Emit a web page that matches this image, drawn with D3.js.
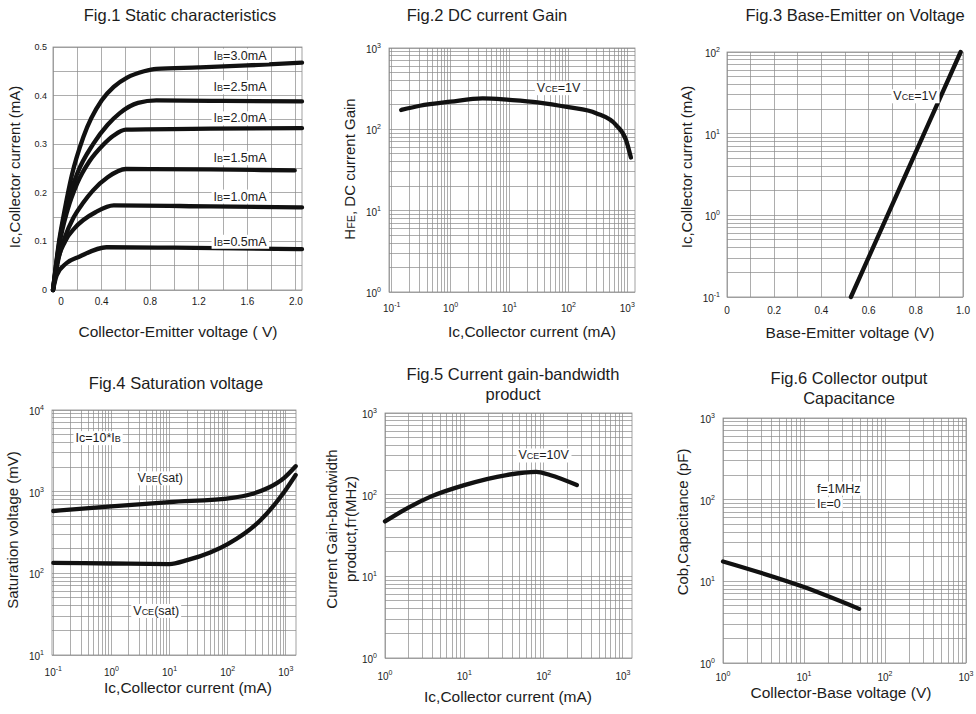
<!DOCTYPE html>
<html><head><meta charset="utf-8">
<script src="https://cdn.jsdelivr.net/npm/d3@7"></script>
<style>
body{margin:0;background:#fff;}
text{font-family:"Liberation Sans",Arial,sans-serif;fill:#1c1c1c;}
</style></head><body>
<svg id="c" width="976" height="714"></svg>
<script>
// ---------------- DATA ----------------
// Fig.1 static characteristics: [Vce (V), Ic (mA)]
const ib30 = [[0,0],[0.05,0.1],[0.1,0.17],[0.154,0.235],[0.25,0.315],[0.40,0.39],[0.5,0.418],[0.61,0.437],[0.75,0.45],[0.85,0.455],[1.2,0.458],[1.6,0.462],[2.05,0.468]];
const ib25 = [[0,0],[0.05,0.095],[0.12,0.18],[0.2,0.24],[0.33,0.3],[0.45,0.34],[0.55,0.364],[0.7,0.385],[0.85,0.39],[1.4,0.389],[2.05,0.388]];
const ib20 = [[0,0],[0.05,0.09],[0.12,0.165],[0.2,0.22],[0.3,0.265],[0.41,0.298],[0.5,0.318],[0.6,0.33],[1.3,0.332],[2.05,0.333]];
const ib15 = [[0,0],[0.05,0.07],[0.1,0.11],[0.167,0.148],[0.25,0.18],[0.33,0.205],[0.45,0.232],[0.6,0.249],[1.3,0.248],[1.99,0.246]];
const ib10 = [[0,0],[0.03,0.05],[0.1,0.1],[0.18,0.128],[0.25,0.144],[0.35,0.16],[0.5,0.174],[1.3,0.172],[2.05,0.17]];
const ib05 = [[0,0],[0.03,0.03],[0.11,0.055],[0.22,0.069],[0.44,0.088],[1.0,0.087],[2.05,0.084]];
const fig1Series = [ib30, ib25, ib20, ib15, ib10, ib05];
const fig1Labels = ["3.0","2.5","2.0","1.5","1.0","0.5"];
const fig1LabelLevels = [0.483, 0.418, 0.354, 0.272, 0.193, 0.1];
const fig1XTicks = [0, 0.4, 0.8, 1.2, 1.6, 2.0];
const fig1XTickLabels = ["0","0.4","0.8","1.2","1.6","2.0"];
const fig1YTicks = [0, 0.1, 0.2, 0.3, 0.4, 0.5];
const fig1YTickLabels = ["0","0.1","0.2","0.3","0.4","0.5"];

// Fig.2 DC current gain: [Ic (mA), hFE]
const hfe = [[0.145,173],[0.3,195],[1,219],[3.5,240],[10,230],[30,215],[100,187],[295,158],[645,113],[950,74],[1150,45]];

// Fig.3 base-emitter on voltage: [Vbe (V), Ic (mA)]
const vbeOn = [[0.525,0.1],[0.68,1],[0.835,10],[0.99,100]];
const fig3XTicks = [0, 0.2, 0.4, 0.6, 0.8, 1.0];
const fig3XTickLabels = ["0","0.2","0.4","0.6","0.8","1.0"];

// Fig.4 saturation voltage: [Ic (mA), V (mV)]
const vbeSat = [[0.1,580],[1,660],[10,745],[120,840],[250,930],[480,1100],[940,1480],[1480,2050]];
const vceSat = [[0.1,134],[1,132],[10,130],[20,145],[50,180],[100,228],[370,450],[940,990],[1480,1600]];

// Fig.5 gain-bandwidth product: [Ic (mA), fT (MHz)]
const ft = [[1,47],[2,70],[3.7,94],[10,131],[34,174],[81,190],[120,174],[262,131]];

// Fig.6 output capacitance: [Vcb (V), Cob (pF)]
const cob = [[1,17.5],[10,8.5],[48,4.6]];

const decadeExps = { f2x:[-1,0,1,2,3], f2y:[0,1,2,3], f3y:[-1,0,1,2], f4x:[-1,0,1,2,3], f4y:[1,2,3,4], f5x:[0,1,2,3], f5y:[0,1,2,3], f6x:[0,1,2,3], f6y:[0,1,2,3] };

// ---------------- DRAWING ----------------
const svg = d3.select("#c");
const GRID = "#8a8a8a";

function logGrid(dom){
  const out=[];
  for(let d=Math.floor(Math.log10(dom[0])); d<=Math.ceil(Math.log10(dom[1])); d++){
    for(let k=1;k<10;k++){ const v=k*Math.pow(10,d); if(v>=dom[0]*0.999 && v<=dom[1]*1.001) out.push(v); }
  }
  return out;
}

function richText(sel, segs){
  segs.forEach(s=>{
    const t = sel.append("tspan").text(s[0]);
    if(s[1]) t.attr("font-size","0.72em");
  });
  return sel;
}

function pow10Label(sel, e){
  sel.append("tspan").text("10");
  sel.append("tspan").text(String(e)).attr("font-size","7px").attr("dy","-5");
}

function panel(cfg){
  const g = svg.append("g");
  const x = (cfg.xLog? d3.scaleLog(): d3.scaleLinear()).domain(cfg.xDomain).range(cfg.xRange);
  const y = (cfg.yLog? d3.scaleLog(): d3.scaleLinear()).domain(cfg.yDomain).range(cfg.yRange);
  const xg = cfg.xLog? logGrid(cfg.xDomain) : cfg.xGrid;
  const yg = cfg.yLog? logGrid(cfg.yDomain) : cfg.yGrid;
  const gg = g.append("g").attr("stroke",GRID).attr("stroke-width",0.7).attr("shape-rendering","crispEdges");
  gg.selectAll(".vx").data(xg).join("line")
    .attr("x1",d=>x(d)).attr("x2",d=>x(d)).attr("y1",cfg.yRange[0]).attr("y2",cfg.yRange[1]);
  gg.selectAll(".hy").data(yg).join("line")
    .attr("y1",d=>y(d)).attr("y2",d=>y(d)).attr("x1",cfg.xRange[0]).attr("x2",cfg.xRange[1]);
  g.append("rect").attr("x",cfg.xRange[0]).attr("y",cfg.yRange[1])
    .attr("width",cfg.xRange[1]-cfg.xRange[0]).attr("height",cfg.yRange[0]-cfg.yRange[1])
    .attr("fill","none").attr("stroke",GRID).attr("stroke-width",0.8);

  // x tick labels
  const xt = g.append("g").attr("font-size","10px").attr("text-anchor","middle");
  if(cfg.xLog){
    cfg.xExps.forEach(e=>{
      const t = xt.append("text").attr("x",x(Math.pow(10,e))).attr("y",cfg.yRange[0]+cfg.xLabDy);
      pow10Label(t,e);
    });
  } else {
    cfg.xTicks.forEach((v,i)=>{
      xt.append("text").attr("x",x(v)+(i===0?cfg.zeroShift||0:0)).attr("y",cfg.yRange[0]+cfg.xLabDy).text(cfg.xTickLabels[i]);
    });
  }
  // y tick labels
  const yt = g.append("g").attr("font-size","10px").attr("text-anchor","end");
  if(cfg.yLog){
    cfg.yExps.forEach(e=>{
      const t = yt.append("text").attr("x",cfg.xRange[0]-cfg.yLabDx).attr("y",y(Math.pow(10,e))+5);
      pow10Label(t,e);
    });
  } else {
    cfg.yTicks.forEach((v,i)=>{
      yt.append("text").attr("x",cfg.xRange[0]-cfg.yLabDx).attr("y",y(v)+3).attr("font-size","9px").text(cfg.yTickLabels[i]);
    });
  }
  // titles
  cfg.title.forEach((line,i)=>{
    g.append("text").attr("x",cfg.titleX).attr("y",cfg.titleY+i*20).attr("text-anchor","middle")
      .attr("font-size","16.5px").text(line);
  });
  // axis labels
  const xl = g.append("text").attr("x",cfg.xLabelX).attr("y",cfg.xLabelY).attr("text-anchor","middle").attr("font-size","15.5px");
  richText(xl, cfg.xLabel);
  cfg.yLabel.forEach((segs,i)=>{
    const yl = g.append("text").attr("transform",`translate(${cfg.yLabelX+i*19},${cfg.yLabelY}) rotate(-90)`)
      .attr("text-anchor","middle").attr("font-size","15px");
    richText(yl, segs);
  });
  return {g,x,y};
}

function curve(p, data){
  const line = d3.line().x(d=>p.x(d[0])).y(d=>p.y(d[1])).curve(d3.curveMonotoneX);
  p.g.append("path").datum(data).attr("d",line).attr("fill","none").attr("stroke","#111")
    .attr("stroke-width",4.3).attr("stroke-linecap","round").attr("stroke-linejoin","round");
}

function note(p, xv, yv, segs, anchor){
  const t = p.g.append("text").attr("x",p.x(xv)).attr("y",p.y(yv)).attr("dy","0.35em")
    .attr("text-anchor",anchor||"middle").attr("font-size","12.5px");
  richText(t, segs);
  const b = t.node().getBBox();
  p.g.insert("rect", function(){ return t.node(); })
    .attr("x",b.x-2).attr("y",b.y).attr("width",b.width+4).attr("height",b.height).attr("fill","#fff");
}

// ---- Fig.1 ----
const p1 = panel({
  xDomain:[0,2.05], xRange:[53,302], yDomain:[0,0.5], yRange:[290,47],
  xGrid:d3.range(0,2.01,0.2), yGrid:d3.range(0,0.501,0.05),
  xTicks:fig1XTicks, xTickLabels:fig1XTickLabels, yTicks:fig1YTicks, yTickLabels:fig1YTickLabels,
  xLabDy:15, yLabDx:6, zeroShift:8,
  title:["Fig.1 Static characteristics"], titleX:180, titleY:21,
  xLabel:[["Collector-Emitter voltage ( V)",0]], xLabelX:178, xLabelY:337,
  yLabel:[[["Ic,Collector current  (mA)",0]]], yLabelX:20, yLabelY:167
});
fig1Series.forEach(s=>curve(p1,s));
fig1Labels.forEach((l,i)=>note(p1,1.54,fig1LabelLevels[i],[["I",0],["B",1],["="+l+"mA",0]]));

// ---- Fig.2 ----
const p2 = panel({
  xLog:true, xDomain:[0.09,1350], xRange:[389,635], yLog:true, yDomain:[1,1000], yRange:[292,48],
  xExps:decadeExps.f2x, yExps:decadeExps.f2y, xLabDy:20, yLabDx:8,
  title:["Fig.2 DC current Gain"], titleX:487, titleY:21,
  xLabel:[["Ic,Collector current  (mA)",0]], xLabelX:532, xLabelY:337,
  yLabel:[[["H",0],["FE",1],[", DC current Gain",0]]], yLabelX:355, yLabelY:169
});
curve(p2,hfe);
note(p2,68,324,[["V",0],["CE",1],["=1V",0]]);

// ---- Fig.3 ----
const p3 = panel({
  xDomain:[0,1.0], xRange:[727,963], yLog:true, yDomain:[0.1,100], yRange:[297,52],
  xGrid:d3.range(0,1.001,0.1), xTicks:fig3XTicks, xTickLabels:fig3XTickLabels,
  yExps:decadeExps.f3y, xLabDy:17, yLabDx:7,
  title:["Fig.3 Base-Emitter on Voltage"], titleX:855, titleY:21,
  xLabel:[["Base-Emitter voltage (V)",0]], xLabelX:850, xLabelY:338,
  yLabel:[[["Ic,Collector current  (mA)",0]]], yLabelX:692, yLabelY:167
});
curve(p3,vbeOn);
note(p3,0.797,29,[["V",0],["CE",1],["=1V",0]]);

// ---- Fig.4 ----
const p4 = panel({
  xLog:true, xDomain:[0.095,1500], xRange:[52,296], yLog:true, yDomain:[10,10000], yRange:[655,410],
  xExps:decadeExps.f4x, yExps:decadeExps.f4y, xLabDy:21, yLabDx:8,
  title:["Fig.4 Saturation voltage"], titleX:176, titleY:389,
  xLabel:[["Ic,Collector current  (mA)",0]], xLabelX:188, xLabelY:693,
  yLabel:[[["Saturation voltage (mV)",0]]], yLabelX:18, yLabelY:530
});
curve(p4,vbeSat);
curve(p4,vceSat);
note(p4,0.59,4570,[["Ic=10*I",0],["B",1]]);
note(p4,6.9,1470,[["V",0],["BE",1],["(sat)",0]]);
note(p4,5.9,35,[["V",0],["CE",1],["(sat)",0]]);

// ---- Fig.5 ----
const p5 = panel({
  xLog:true, xDomain:[1,1300], xRange:[385,632], yLog:true, yDomain:[1,1000], yRange:[658,413],
  xExps:decadeExps.f5x, yExps:decadeExps.f5y, xLabDy:22, yLabDx:8,
  title:["Fig.5 Current gain-bandwidth","product"], titleX:513, titleY:380,
  xLabel:[["Ic,Collector current  (mA)",0]], xLabelX:508, xLabelY:702,
  yLabel:[[["Current Gain-bandwidth",0]],[["product,f",0],["T",1],["(MHz)",0]]], yLabelX:337, yLabelY:529
});
curve(p5,ft);
note(p5,100,305,[["V",0],["CE",1],["=10V",0]]);

// ---- Fig.6 ----
const p6 = panel({
  xLog:true, xDomain:[1,1000], xRange:[723,966], yLog:true, yDomain:[1,1000], yRange:[663,418],
  xExps:decadeExps.f6x, yExps:decadeExps.f6y, xLabDy:18, yLabDx:8,
  title:["Fig.6 Collector output","Capacitance"], titleX:849, titleY:384,
  xLabel:[["Collector-Base voltage (V)",0]], xLabelX:841, xLabelY:698,
  yLabel:[[["Cob,Capacitance (pF)",0]]], yLabelX:688, yLabelY:522
});
curve(p6,cob);
note(p6,14.5,138,[["f=1MHz",0]],"start");
note(p6,14.5,89,[["I",0],["E",1],["=0",0]],"start");
</script>
</body></html>
